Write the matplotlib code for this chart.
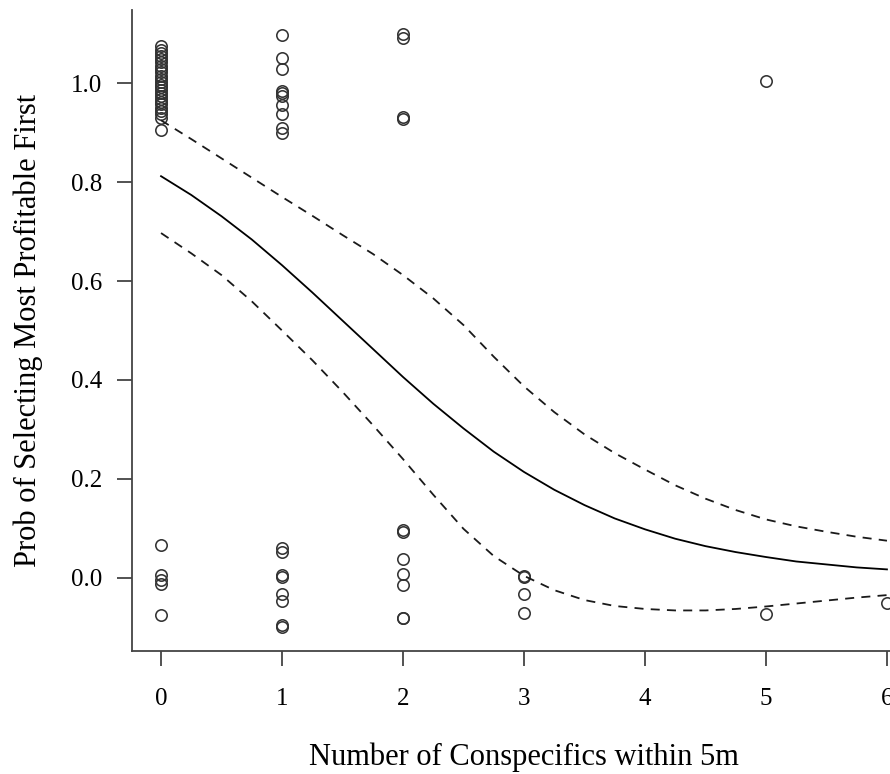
import numpy as np
import matplotlib.pyplot as plt

plt.rcParams['font.family'] = ['Liberation Serif', 'DejaVu Serif']

# observed (y-jittered) choices
x0_pts = [0] * 30
y0_pts = [1.075, 1.068, 1.062, 1.055, 1.048, 1.042, 1.035, 1.028, 1.022, 1.015,
          1.008, 1.002, 0.997, 0.992, 0.986, 0.980, 0.975, 0.969, 0.963, 0.957,
          0.950, 0.944, 0.937, 0.930, 0.905,
          0.067, 0.006, -0.004, -0.012, -0.075]
x1_pts = [1] * 18
y1_pts = [1.097, 1.050, 1.028, 0.985, 0.980, 0.975, 0.955, 0.937, 0.910, 0.900,
          0.061, 0.053, 0.006, 0.002, -0.033, -0.047, -0.096, -0.100]
x2_pts = [2] * 11
y2_pts = [1.100, 1.092, 0.931, 0.928,
          0.097, 0.093, 0.037, 0.008, -0.014, -0.081, -0.081]
x3_pts = [3] * 4
y3_pts = [0.004, 0.001, -0.033, -0.072]
x5_pts = [5, 5]
y5_pts = [1.005, -0.073]
x6_pts = [6]
y6_pts = [-0.050]

# fitted probability and confidence band
x_fit = [0, 0.25, 0.5, 0.75, 1, 1.25, 1.5, 1.75, 2, 2.25, 2.5, 2.75, 3,
         3.25, 3.5, 3.75, 4, 4.25, 4.5, 4.75, 5, 5.25, 5.5, 5.75, 6]
p_fit = [0.812, 0.774, 0.731, 0.684, 0.632, 0.577, 0.520, 0.463, 0.406, 0.352,
         0.302, 0.255, 0.214, 0.178, 0.147, 0.120, 0.098, 0.079, 0.064, 0.052,
         0.042, 0.033, 0.027, 0.021, 0.017]
p_upper = [0.925, 0.887, 0.848, 0.809, 0.770, 0.732, 0.693, 0.655, 0.612, 0.565,
           0.511, 0.447, 0.387, 0.335, 0.290, 0.252, 0.219, 0.187, 0.160, 0.137,
           0.118, 0.104, 0.093, 0.083, 0.075]
p_lower = [0.697, 0.656, 0.612, 0.559, 0.500, 0.440, 0.376, 0.309, 0.240, 0.168,
           0.099, 0.044, 0.004, -0.025, -0.045, -0.057, -0.063, -0.066, -0.066,
           -0.063, -0.058, -0.052, -0.046, -0.040, -0.035]

fig = plt.figure(figsize=(8.9, 7.74), dpi=100)
# plot region runs past the right edge of the picture (original was cropped)
ax = fig.add_axes([132 / 890, 1 - 651 / 774, (916 - 132) / 890, (651 - 10) / 774])

xs = x0_pts + x1_pts + x2_pts + x3_pts + x5_pts + x6_pts
ys = y0_pts + y1_pts + y2_pts + y3_pts + y5_pts + y6_pts
ax.plot(xs, ys, 'o', ms=8.2, mfc='none', mec='#333333', mew=1.15)

ax.plot(x_fit, p_fit, color='black', lw=1.3)
ax.plot(x_fit, p_upper, color='#1a1a1a', lw=1.3, dashes=(5, 4))
ax.plot(x_fit, p_lower, color='#1a1a1a', lw=1.3, dashes=(5, 4))

ax.set_xlim(-0.24, 6.24)
ax.set_ylim(-0.148, 1.148)
ax.set_xticks(range(7))
ax.set_yticks([0.0, 0.2, 0.4, 0.6, 0.8, 1.0])
ax.set_yticklabels(['0.0', '0.2', '0.4', '0.6', '0.8', '1.0'])

for side in ['top', 'right']:
    ax.spines[side].set_visible(False)
for side in ['left', 'bottom']:
    ax.spines[side].set_color('#444444')
    ax.spines[side].set_linewidth(1.3)
ax.tick_params(direction='out', length=10.8, width=1.3, color='#444444',
               labelsize=18)
ax.tick_params(axis='x', pad=15.8)
ax.tick_params(axis='y', pad=10.5)

ax.set_xlabel('Number of Conspecifics within 5m', fontsize=22, va='baseline')
ax.xaxis.set_label_coords(0.5, -(765 - 651) / 641)
ax.set_ylabel('Prob of Selecting Most Profitable First', fontsize=22,
              va='baseline')
ax.yaxis.set_label_coords((36 - 132) / 784, 0.5)

fig.savefig('out.png', dpi=100)
